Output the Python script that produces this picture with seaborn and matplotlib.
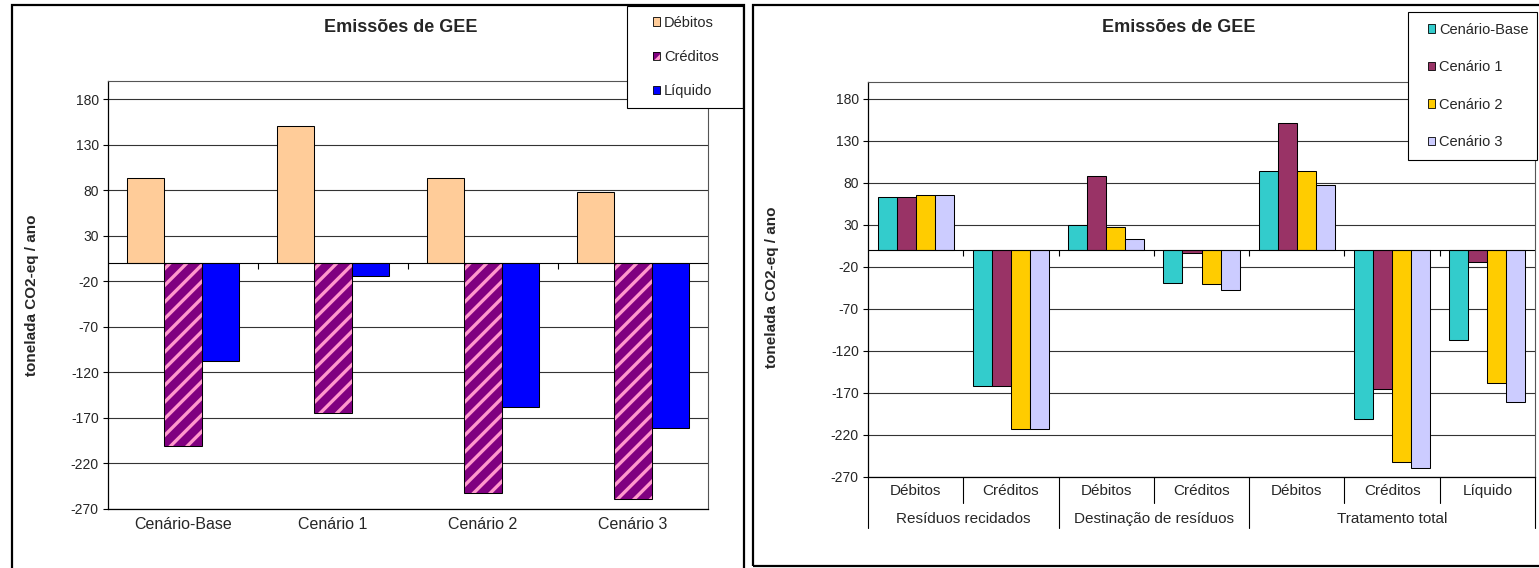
import numpy as np
import pandas as pd
import matplotlib
matplotlib.use('Agg')
import matplotlib.pyplot as plt
from matplotlib.patches import Patch, Rectangle
from matplotlib.legend_handler import HandlerTuple
from matplotlib.transforms import blended_transform_factory
import seaborn as sns

# Left chart: total per scenario
cenarios = ['Cenário-Base', 'Cenário 1', 'Cenário 2', 'Cenário 3']
debitos = [94, 151, 94, 78]
creditos = [-201, -165, -252, -259]
liquido = [-107, -14, -158, -181]

# Right chart: per category, one list per scenario
categorias = ['Débitos', 'Créditos', 'Débitos', 'Créditos', 'Débitos', 'Créditos', 'Líquido']
grupos = ['Resíduos recidados', 'Destinação de resíduos', 'Tratamento total']
grupo_tamanho = [2, 2, 3]
cenario_base = [63, -162, 30, -39, 94, -201, -107]
cenario_1 = [63, -162, 88, -3, 151, -165, -14]
cenario_2 = [65, -213, 28, -40, 94, -252, -158]
cenario_3 = [65, -213, 13, -47, 78, -259, -181]

yticks = [180, 130, 80, 30, -20, -70, -120, -170, -220, -270]

cores_esq = ['#FFCC99', '#800080', '#0000FF']
cores_dir = ['#33CCCC', '#993366', '#FFCC00', '#CCCCFF']
rosa = '#FF99CC'

sns.set_style('white')
plt.rcParams['font.family'] = ['Liberation Sans', 'DejaVu Sans']
plt.rcParams['axes.unicode_minus'] = False
plt.rcParams['hatch.linewidth'] = 2.4

W, H = 1539, 568
def fx(px):
    return px / W
def fy(py):
    return 1 - py / H

fig = plt.figure(figsize=(W / 100, H / 100), dpi=100)
ax1 = fig.add_axes([fx(108), fy(509), fx(708) - fx(108), fy(81) - fy(509)])
ax2 = fig.add_axes([fx(868), fy(477), fx(1535) - fx(868), fy(82) - fy(477)])

# Left chart
tipos = ['Débitos', 'Créditos', 'Líquido']
df_esq = pd.DataFrame({
    'cenario': cenarios * 3,
    'tipo': [t for t in tipos for _ in cenarios],
    'valor': debitos + creditos + liquido,
})
sns.barplot(data=df_esq, x='cenario', y='valor', hue='tipo', order=cenarios, hue_order=tipos,
            palette=cores_esq, saturation=1, width=0.75, edgecolor='black', linewidth=0.75,
            legend=False, ax=ax1, zorder=2)
for p in ax1.containers[1]:
    p.set_hatch('//')
    p.set_edgecolor(rosa)
    p.set_linewidth(0)
    ax1.add_patch(Rectangle(p.get_xy(), p.get_width(), p.get_height(), fill=False,
                            ec='black', lw=0.75, zorder=2.1))

# Right chart
df_dir = pd.DataFrame({
    'pos': list(range(len(categorias))) * 4,
    'cenario': [c for c in cenarios for _ in categorias],
    'valor': cenario_base + cenario_1 + cenario_2 + cenario_3,
})
sns.barplot(data=df_dir, x='pos', y='valor', hue='cenario', hue_order=cenarios,
            palette=cores_dir, saturation=1, width=0.8, edgecolor='black', linewidth=0.75,
            legend=False, ax=ax2, zorder=2)

def estilo(ax, n):
    ax.set_ylim(-270, 200)
    ax.set_yticks(yticks)
    ax.set_xlim(-0.5, n - 0.5)
    ax.grid(axis='y', color='#333333', lw=0.8)
    ax.set_axisbelow(True)
    ax.tick_params(axis='y', length=3.6, width=0.8, color='black', labelsize=10, pad=3,
                   left=True)
    ax.tick_params(axis='x', length=0, labelsize=11.5)
    ax.axhline(0, color='black', lw=0.8, zorder=2.5)
    bounds = np.arange(n - 1) + 0.5
    ax.plot(bounds, np.zeros(len(bounds)), ls='none', marker=3, ms=4, mew=0.8,
            color='black', zorder=3)
    for s in ['top', 'right']:
        ax.spines[s].set_color('#555555')
        ax.spines[s].set_linewidth(0.8)
    for s in ['left', 'bottom']:
        ax.spines[s].set_color('black')
        ax.spines[s].set_linewidth(0.9)
    ax.set_xlabel('')
    ax.set_ylabel('')

estilo(ax1, len(cenarios))
ax1.tick_params(axis='x', pad=6)
estilo(ax2, len(categorias))
ax2.set_xticks(range(len(categorias)))
ax2.set_xticklabels(categorias)
ax2.tick_params(axis='x', pad=5, labelsize=11)

# multi-level category axis on the right chart
tr = blended_transform_factory(ax2.transData, ax2.transAxes)
inicio = np.cumsum([0] + grupo_tamanho)
for i in range(len(categorias) + 1):
    x = i - 0.5
    if i in inicio:
        ax2.plot([x, x], [0, -0.13], color='black', lw=0.8, transform=tr, clip_on=False)
    else:
        ax2.plot([x, x], [0, -0.065], color='black', lw=0.8, transform=tr, clip_on=False)
for g, a, b in zip(grupos, inicio[:-1], inicio[1:]):
    ax2.text((a + b - 1) / 2, -0.106, g, transform=tr, ha='center', va='center', fontsize=11)

# titles and axis labels
for cx in [401, 1179]:
    fig.text(fx(cx), fy(27), 'Emissões de GEE', ha='center', va='center', fontsize=13,
             fontweight='bold')
fig.text(fx(32), fy(295), 'tonelada CO2-eq / ano', rotation=90, ha='center', va='center',
         fontsize=11, fontweight='bold')
fig.text(fx(772), fy(287), 'tonelada CO2-eq / ano', rotation=90, ha='center', va='center',
         fontsize=11, fontweight='bold')

# legends with their own white boxes
fig.patches.append(Rectangle((fx(627), fy(108)), fx(743) - fx(627), fy(6) - fy(108),
                             transform=fig.transFigure, fc='white', ec='black', lw=0.8, zorder=4))
fig.patches.append(Rectangle((fx(1408), fy(160)), fx(1537) - fx(1408), fy(12) - fy(160),
                             transform=fig.transFigure, fc='white', ec='black', lw=0.8, zorder=4))

h_esq = [Patch(fc=cores_esq[0], ec='black', lw=0.6),
         (Patch(fc=cores_esq[1], ec=rosa, lw=0, hatch='//'), Patch(fill=False, ec='black', lw=0.6)),
         Patch(fc=cores_esq[2], ec='black', lw=0.6)]
leg1 = fig.legend(h_esq, tipos, loc='center left', bbox_to_anchor=(fx(653), fy(57)),
                  bbox_transform=fig.transFigure, frameon=False, fontsize=10.5,
                  handlelength=0.5, handleheight=0.5, handletextpad=0.25, labelspacing=1.4,
                  borderpad=0, borderaxespad=0, handler_map={tuple: HandlerTuple(ndivide=1)})
leg1.set_zorder(6)

h_dir = [Patch(fc=c, ec='black', lw=0.6) for c in cores_dir]
leg2 = fig.legend(h_dir, cenarios, loc='center left', bbox_to_anchor=(fx(1428), fy(86)),
                  bbox_transform=fig.transFigure, frameon=False, fontsize=10.5,
                  handlelength=0.5, handleheight=0.5, handletextpad=0.25, labelspacing=1.62,
                  borderpad=0, borderaxespad=0)
leg2.set_zorder(6)

# chart frames
fig.patches.append(Rectangle((fx(12), fy(610)), fx(744) - fx(12), fy(5) - fy(610),
                             transform=fig.transFigure, fill=False, ec='black', lw=1.6, zorder=7))
fig.patches.append(Rectangle((fx(753), fy(566)), fx(1580) - fx(753), fy(5) - fy(566),
                             transform=fig.transFigure, fill=False, ec='black', lw=1.6, zorder=7))

fig.savefig('out.png', dpi=100, facecolor='white')
